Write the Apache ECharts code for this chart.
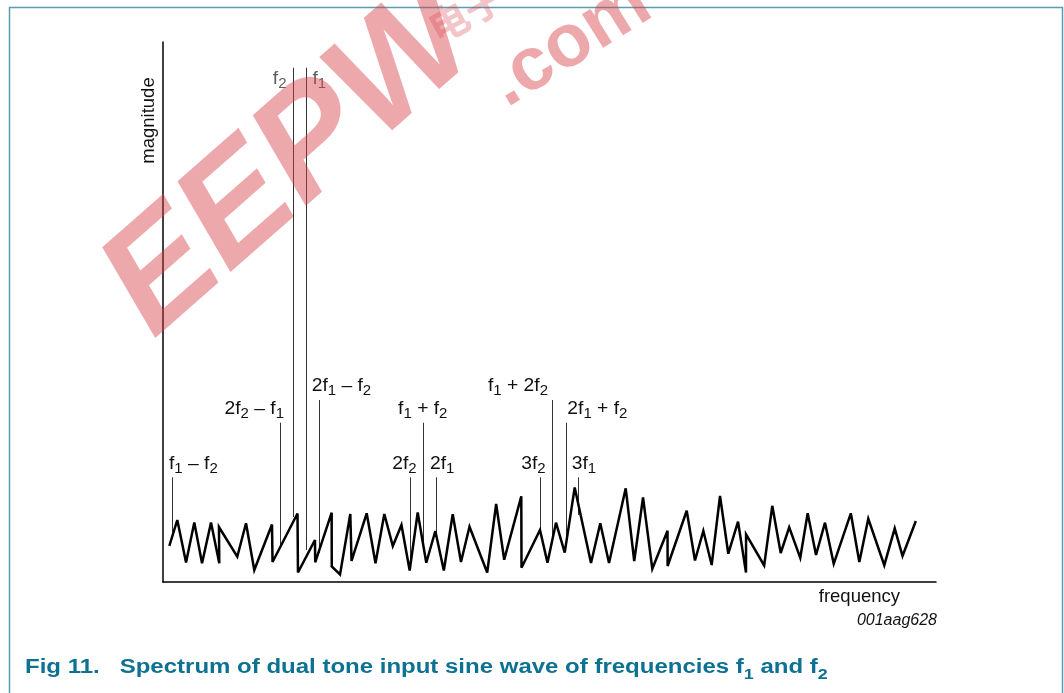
<!DOCTYPE html>
<html><head><meta charset="utf-8">
<script src="https://cdn.jsdelivr.net/npm/echarts@6/dist/echarts.min.js"></script>
<style>html,body{margin:0;padding:0;background:#fff}#c{width:1064px;height:693px}</style>
</head><body><div id="c"></div>
<script>
// ---- data (arbitrary units: frequency 0..100, magnitude 0..100) ----
const noiseFreq = [0.82,1.85,2.98,4.05,5.05,6.21,7.28,7.24,9.61,10.74,11.81,14.10,14.17,17.40,17.46,19.66,19.69,21.82,21.83,22.90,24.23,24.39,26.35,27.49,28.63,29.73,30.85,31.91,32.95,34.06,35.23,36.33,37.48,38.55,39.65,41.94,43.10,44.14,46.35,46.38,48.77,49.74,50.84,51.97,53.26,55.37,56.57,57.70,59.86,60.96,62.10,63.30,65.27,65.28,67.75,68.82,69.90,70.98,72.06,73.13,74.39,75.42,75.43,77.77,78.82,79.91,81.01,82.44,83.40,84.48,85.64,86.77,88.98,90.08,91.24,93.31,94.66,95.67,97.39];
const noiseMag = [6.67,11.48,3.61,11.02,3.46,11.02,3.46,10.19,4.69,10.87,2.22,10.65,3.70,12.69,1.76,7.78,3.65,12.83,2.87,1.39,12.59,3.89,12.72,3.46,12.59,6.67,10.56,2.13,12.87,3.57,9.44,2.13,12.54,3.70,10.24,1.76,14.44,4.13,15.87,2.65,9.63,3.57,10.98,5.43,17.50,3.52,10.87,3.52,17.35,3.89,15.65,2.44,9.48,2.96,13.19,3.98,9.48,3.15,15.93,5.24,11.17,1.76,8.80,3.06,14.11,5.37,10.13,4.48,12.72,5.00,10.98,3.37,12.72,3.70,11.70,3.11,9.94,4.81,11.30];

const spikeLabels = [
  '{m|f}{s|1}{m| – f}{s|2}',
  '{m|2f}{s|2}{m| – f}{s|1}',
  '{m|f}{s|2}',
  '{m|f}{s|1}',
  '{m|2f}{s|1}{m| – f}{s|2}',
  '{m|2f}{s|2}',
  '{m|f}{s|1}{m| + f}{s|2}',
  '{m|2f}{s|1}',
  '{m|3f}{s|2}',
  '{m|f}{s|1}{m| + 2f}{s|2}',
  '{m|2f}{s|1}{m| + f}{s|2}',
  '{m|3f}{s|1}'
];
const spikeFreq = [1.16,15.14,16.88,18.56,20.14,31.95,33.67,35.32,48.77,50.32,52.10,53.65];
const spikeTop  = [19.39,29.5,95.24,95.24,33.70,19.39,29.5,19.39,19.39,33.70,29.5,19.39];
const spikeBase = [9.26,6.67,12.04,5.93,5.37,2.41,6.85,8.70,9.63,7.59,6.67,12.41];

// ---- layout / style (not data) ----
const FONT = 'Liberation Sans, Arial, Helvetica, sans-serif';
const labelLayout = [
  {align:'left',  dx:-3,   dy:-13.5},
  {align:'right', dx:4,    dy:-13.7},
  {align:'right', dx:-7,   dy:11, fill:'#606060'},
  {align:'left',  dx:6,    dy:11, fill:'#606060'},
  {align:'left',  dx:-7,   dy:-14},
  {align:'right', dx:6.7,  dy:-13.5},
  {align:'center',dx:-0.5, dy:-13.7},
  {align:'left',  dx:-6,   dy:-13.5},
  {align:'right', dx:5.7,  dy:-13.5},
  {align:'right', dx:-4,   dy:-14},
  {align:'left',  dx:1.6,  dy:-13.7},
  {align:'left',  dx:-6,   dy:-13.5}
];
function richFor(fill){
  return {
    m:{fontSize:18, lineHeight:16, verticalAlign:'top', fontFamily:FONT, fill:fill},
    s:{fontSize:14, lineHeight:21, verticalAlign:'bottom', fontFamily:FONT, fill:fill}
  };
}

const chart = echarts.init(document.getElementById('c'), null, {renderer:'canvas'});
const WM = 'rgba(214,62,72,0.45)';
chart.setOption({
  animation:false,
  backgroundColor:'#ffffff',
  grid:{left:163, top:42, width:773, height:540},
  xAxis:{type:'value', min:0, max:100,
    axisLine:{show:true, onZero:false, lineStyle:{color:'#000', width:1.5}},
    axisTick:{show:false}, axisLabel:{show:false}, splitLine:{show:false}},
  yAxis:{type:'value', min:0, max:100,
    axisLine:{show:true, onZero:false, lineStyle:{color:'#000', width:1.5}},
    axisTick:{show:false}, axisLabel:{show:false}, splitLine:{show:false}},
  series:[
    {
      type:'custom', z:2,
      data: spikeFreq.map((f,i)=>[f, spikeTop[i], spikeBase[i]]),
      encode:{x:0, y:1},
      renderItem:function(params, api){
        const i = params.dataIndex;
        const pT = api.coord([api.value(0), api.value(1)]);
        const pB = api.coord([api.value(0), api.value(2)]);
        const lay = labelLayout[i];
        const fill = lay.fill || '#111';
        const xl = Math.round(pT[0]) + 0.5;
        return {type:'group', children:[
          {type:'line', shape:{x1:xl, y1:pT[1], x2:xl, y2:pB[1]}, style:{stroke:'#333', lineWidth:1}},
          {type:'text', x:pT[0]+lay.dx, y:pT[1]+lay.dy-9, scaleX:1.07,
            style:{text:spikeLabels[i], x:0, y:0,
            align:lay.align, verticalAlign:'top', fill:fill, rich:richFor(fill)}}
        ]};
      }
    },
    {
      type:'line', z:3, symbol:'none', silent:true,
      data: noiseFreq.map((f,i)=>[f, noiseMag[i]]),
      lineStyle:{color:'#000', width:2.5, join:'miter', miterLimit:4}
    }
  ],
  graphic:[
    {type:'rect', z:0, shape:{x:9.5, y:7.5, width:1053, height:700},
      style:{fill:'none', stroke:'#5a9db2', lineWidth:1.5}},
    {type:'text', z:5, x:148.5, y:120.5, rotation:Math.PI/2,
      style:{text:'magnitude', x:0, y:0, align:'center', verticalAlign:'middle',
        font:'18.5px '+FONT, fill:'#111'}},
    {type:'text', z:5, style:{text:'frequency', x:900, y:597, align:'right', verticalAlign:'middle',
        font:'18.5px '+FONT, fill:'#111'}},
    {type:'text', z:5, style:{text:'001aag628', x:937, y:621, align:'right', verticalAlign:'middle',
        font:'italic 16px '+FONT, fill:'#111'}},
    {type:'text', z:5, x:25, y:657, scaleX:1.2, style:{
        text:'{b|Fig 11.   Spectrum of dual tone input sine wave of frequencies f}{bs|1}{b| and f}{bs|2}',
        x:0, y:0, align:'left', verticalAlign:'top',
        rich:{
          b:{fontSize:20, fontWeight:'bold', lineHeight:20, verticalAlign:'top', fontFamily:FONT, fill:'#0d7191'},
          bs:{fontSize:15, fontWeight:'bold', lineHeight:25, verticalAlign:'bottom', fontFamily:FONT, fill:'#0d7191'}
        }}},
    // watermark
    {type:'text', z:100, x:292, y:163, rotation:0.72,
      style:{text:'EEPW', x:0, y:0, align:'center', verticalAlign:'middle',
        font:'italic bold 150px '+FONT, fill:WM}},
    {type:'text', z:100, x:570, y:44, rotation:0.56,
      style:{text:'.com', x:0, y:0, align:'center', verticalAlign:'middle',
        font:'bold 75px '+FONT, fill:WM}},
    {type:'text', z:100, x:466, y:12, rotation:0.5,
      style:{text:'电子', x:0, y:0, align:'center', verticalAlign:'middle',
        font:'bold 40px Noto Sans CJK SC', fill:'rgba(214,62,72,0.3)'}}
  ]
});
</script>
</body></html>
